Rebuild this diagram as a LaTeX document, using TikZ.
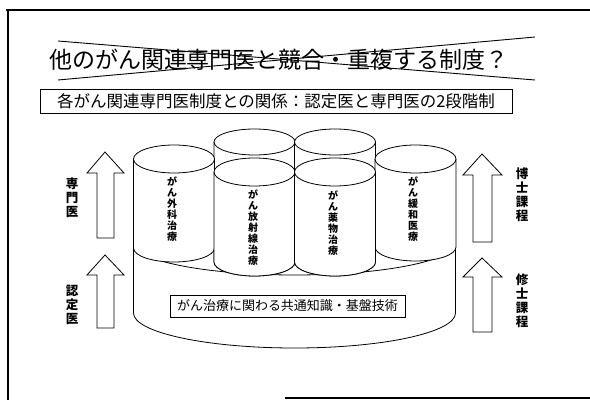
\documentclass[tikz,border=0pt]{standalone}
\usepackage{fontspec}
\newfontfamily\jp{Noto Sans CJK JP}
\tikzset{
  frameline/.style={line width=1.4pt},
  crossline/.style={line width=0.9pt},
  cyl/.style={draw, fill=white, line width=0.8pt},
  bigarrow/.style={draw, fill=white, line width=0.8pt, line join=miter},
  vlabel/.style={align=center, inner sep=0pt, font=\jp\bfseries\fontsize{12.5}{14}\selectfont},
  clabel/.style={align=center, inner sep=0pt, font=\jp\bfseries\fontsize{10}{11}\selectfont},
  boxtext/.style={draw, line width=0.8pt, fill=white, inner sep=0pt},
}
\begin{document}
\begin{tikzpicture}[x=1pt,y=1pt]
\useasboundingbox (0,0) rectangle (590,400);
% frame
\coordinate (f1) at (6,390);
\coordinate (f2) at (590,390);
\coordinate (f3) at (8,390);
\coordinate (f4) at (8,0);
\coordinate (f5) at (285,2);
\coordinate (f6) at (590,2);
\draw[frameline] (f1) -- (f2);
\draw[frameline] (f3) -- (f4);
\draw[frameline] (f5) -- (f6);
% title
\node[inner sep=0pt, font=\jp\fontsize{23}{26}\selectfont] (title) at (279,340) {他のがん関連専門医と競合・重複する制度？};
\coordinate (xa1) at (58,359);
\coordinate (xa2) at (535,320);
\coordinate (xb1) at (58,320);
\coordinate (xb2) at (535,363);
\draw[crossline] (xa1) -- (xa2);
\draw[crossline] (xb1) -- (xb2);
% subtitle box
\node[boxtext, minimum width=472pt, minimum height=24pt, font=\jp\fontsize{16.5}{18}\selectfont] (sub) at (276,299) {各がん関連専門医制度との関係：認定医と専門医の2段階制};
% base disk
\draw[cyl] (133.5,157) -- (133.5,87) arc[start angle=180, end angle=360, x radius=161, y radius=35] -- (455.5,157) arc[start angle=0, end angle=180, x radius=161, y radius=32] -- cycle;
\draw[line width=0.8pt] (133.5,157) arc[start angle=180, end angle=360, x radius=161, y radius=32];
% back cylinders
\foreach \cx in {254.5,335} {
  \draw[cyl] (\cx-40.5,258) -- (\cx-40.5,138) arc[start angle=180, end angle=360, x radius=40.5, y radius=14] -- (\cx+40.5,258) arc[start angle=0, end angle=180, x radius=40.5, y radius=13] -- cycle;
  \draw[line width=0.8pt] (\cx-40.5,258) arc[start angle=180, end angle=360, x radius=40.5, y radius=13];
}
% left and right cylinders
\foreach \cx/\bt in {174/152,415.5/153} {
  \draw[cyl] (\cx-40.5,241) -- (\cx-40.5,\bt) arc[start angle=180, end angle=360, x radius=40.5, y radius=14] -- (\cx+40.5,241) arc[start angle=0, end angle=180, x radius=40.5, y radius=14] -- cycle;
  \draw[line width=0.8pt] (\cx-40.5,241) arc[start angle=180, end angle=360, x radius=40.5, y radius=14];
}
% front middle cylinders
\foreach \cx in {254.5,335} {
  \draw[cyl] (\cx-40.5,228) -- (\cx-40.5,138) arc[start angle=180, end angle=360, x radius=40.5, y radius=14] -- (\cx+40.5,228) arc[start angle=0, end angle=180, x radius=40.5, y radius=14] -- cycle;
  \draw[line width=0.8pt] (\cx-40.5,228) arc[start angle=180, end angle=360, x radius=40.5, y radius=14];
}
% cylinder labels
\node[clabel] (c1) at (172,190.5) {が\\ん\\外\\科\\治\\療};
\node[clabel] (c2) at (253,172.5) {が\\ん\\放\\射\\線\\治\\療};
\node[clabel] (c3) at (333,176.5) {が\\ん\\薬\\物\\治\\療};
\node[clabel] (c4) at (413,190.5) {が\\ん\\緩\\和\\医\\療};
% base text box
\node[boxtext, minimum width=235pt, minimum height=22pt, font=\jp\fontsize{13}{15}\selectfont] (basebox) at (287.5,94) {がん治療に関わる共通知識・基盤技術};
% left arrows
\draw[bigarrow] (105,248) -- (124,227) -- (114,227) -- (114,162) -- (97,162) -- (97,227) -- (87,227) -- cycle;
\draw[bigarrow] (105,145) -- (124,125) -- (114,125) -- (114,72) -- (97,72) -- (97,125) -- (87,125) -- cycle;
% right arrows
\draw[bigarrow] (482,246) -- (502,225) -- (492,225) -- (492,158) -- (473,158) -- (473,225) -- (463,225) -- cycle;
\draw[bigarrow] (482,142) -- (502,123) -- (492,123) -- (492,68) -- (473,68) -- (473,123) -- (463,123) -- cycle;
% side labels
\node[vlabel] (l1) at (72,202.5) {専\\門\\医};
\node[vlabel] (l2) at (72,95) {認\\定\\医};
\node[vlabel] (r1) at (522,205) {博\\士\\課\\程};
\node[vlabel] (r2) at (522,99.5) {修\\士\\課\\程};
\end{tikzpicture}
\end{document}
